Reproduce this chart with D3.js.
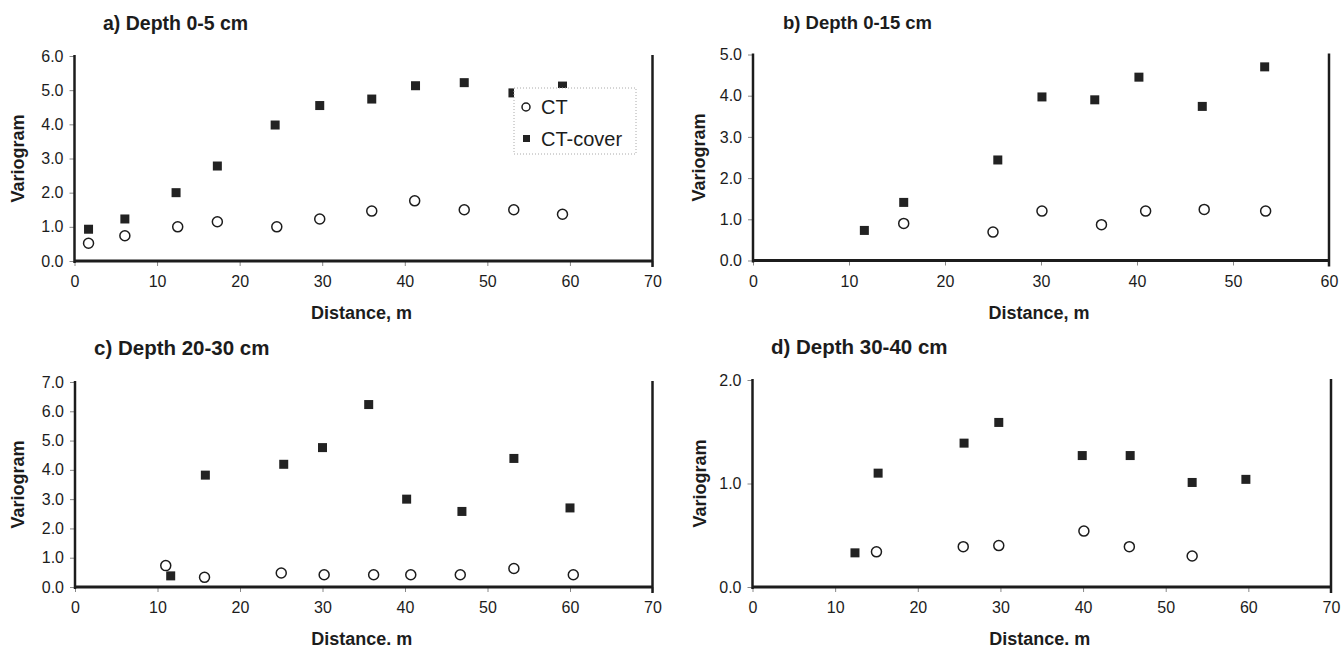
<!DOCTYPE html>
<html>
<head>
<meta charset="utf-8">
<script src="https://cdn.jsdelivr.net/npm/d3@7"></script>
<style>
body { margin: 0; background: #fff; }
text { font-family: "Liberation Sans", Arial, sans-serif; fill: #1c1c1c; }
</style>
</head>
<body>
<div id="chart"></div>
<script>
// Width and height
var width  = 1341;
var height = 650;

// a) depth 0-5 cm
var distA_CT    = [1.7, 6.1, 12.5, 17.3, 24.5, 29.7, 36.0, 41.2, 47.2, 53.2, 59.1];
var varA_CT     = [0.52, 0.74, 1.00, 1.15, 1.00, 1.23, 1.46, 1.76, 1.50, 1.50, 1.37];
var distA_cover = [1.7, 6.1, 12.3, 17.3, 24.3, 29.7, 36.0, 41.3, 47.2, 53.1, 59.1];
var varA_cover  = [0.93, 1.23, 2.00, 2.78, 3.98, 4.55, 4.74, 5.13, 5.22, 4.92, 5.12];

// b) depth 0-15 cm
var distB_CT    = [15.7, 25.0, 30.1, 36.3, 40.9, 47.0, 53.4];
var varB_CT     = [0.90, 0.69, 1.20, 0.87, 1.20, 1.24, 1.20];
var distB_cover = [11.6, 15.7, 25.5, 30.1, 35.6, 40.2, 46.8, 53.3];
var varB_cover  = [0.73, 1.41, 2.44, 3.97, 3.90, 4.45, 3.74, 4.70];

// c) depth 20-30 cm
var distC_CT    = [11.0, 15.7, 25.0, 30.2, 36.2, 40.7, 46.7, 53.2, 60.4];
var varC_CT     = [0.73, 0.33, 0.48, 0.42, 0.42, 0.42, 0.42, 0.63, 0.42];
var distC_cover = [11.6, 15.8, 25.3, 30.0, 35.6, 40.2, 46.9, 53.2, 60.0];
var varC_cover  = [0.38, 3.82, 4.19, 4.76, 6.23, 3.00, 2.58, 4.39, 2.70];

// d) depth 30-40 cm
var distD_CT    = [15.0, 25.5, 29.8, 40.1, 45.6, 53.2];
var varD_CT     = [0.34, 0.39, 0.40, 0.54, 0.39, 0.30];
var distD_cover = [12.4, 15.2, 25.6, 29.8, 39.9, 45.7, 53.2, 59.7];
var varD_cover  = [0.33, 1.10, 1.39, 1.59, 1.27, 1.27, 1.01, 1.04];

// tick labels
var xTicks70 = [0, 10, 20, 30, 40, 50, 60, 70];
var xTicks60 = [0, 10, 20, 30, 40, 50, 60];
var yTicksA  = [0, 1, 2, 3, 4, 5, 6];
var yTicksB  = [0, 1, 2, 3, 4, 5];
var yTicksC  = [0, 1, 2, 3, 4, 5, 6, 7];
var yTicksD  = [0, 1, 2];

var seriesNames = ["CT", "CT-cover"];

var panels = [
    { title: "a) Depth 0-5 cm", titleX: 103, titleY: 30, titleSize: 19.5,
      left: 74.5, right: 652.5, top: 56, bottom: 261, labX: 18,
      xMax: 70, xTicks: xTicks70, yMax: 6, yTicks: yTicksA, xLabel: "Distance, m",
      ct: [distA_CT, varA_CT], cover: [distA_cover, varA_cover], legend: true },
    { title: "b) Depth 0-15 cm", titleX: 783, titleY: 29, titleSize: 18.5,
      left: 753, right: 1329, top: 54.5, bottom: 260.5, labX: 699,
      xMax: 60, xTicks: xTicks60, yMax: 5, yTicks: yTicksB, xLabel: "Distance, m",
      ct: [distB_CT, varB_CT], cover: [distB_cover, varB_cover], legend: false },
    { title: "c) Depth 20-30 cm", titleX: 94, titleY: 355, titleSize: 20.5,
      left: 75, right: 652.5, top: 382, bottom: 587, labX: 18,
      xMax: 70, xTicks: xTicks70, yMax: 7, yTicks: yTicksC, xLabel: "Distance. m",
      ct: [distC_CT, varC_CT], cover: [distC_cover, varC_cover], legend: false },
    { title: "d) Depth 30-40 cm", titleX: 771, titleY: 354, titleSize: 20.5,
      left: 752.5, right: 1331, top: 380, bottom: 587, labX: 700,
      xMax: 70, xTicks: xTicks70, yMax: 2, yTicks: yTicksD, xLabel: "Distance. m",
      ct: [distD_CT, varD_CT], cover: [distD_cover, varD_cover], legend: false }
];

var svg = d3.select("#chart")
    .append("svg")
    .attr("width", width)
    .attr("height", height);

panels.forEach(function(p) {
    var x = d3.scaleLinear().domain([0, p.xMax]).range([p.left, p.right]);
    var y = d3.scaleLinear().domain([0, p.yMax]).range([p.bottom, p.top]);
    var g = svg.append("g");

    // title
    g.append("text")
        .attr("x", p.titleX)
        .attr("y", p.titleY)
        .style("font-size", p.titleSize + "px")
        .style("font-weight", "bold")
        .text(p.title);

    // axes
    var yAxis = g.append("g")
        .attr("transform", "translate(" + p.left + ",0)")
        .call(d3.axisLeft(y).tickValues(p.yTicks).tickSize(5).tickPadding(6)
            .tickFormat(d3.format(".1f")));
    var xAxis = g.append("g")
        .attr("transform", "translate(0," + p.bottom + ")")
        .call(d3.axisBottom(x).tickValues(p.xTicks).tickSize(5).tickPadding(10)
            .tickFormat(d3.format("d")));
    [yAxis, xAxis].forEach(function(a) {
        a.select(".domain").remove();
        a.selectAll(".tick line").style("stroke", "#888").style("stroke-width", 1);
        a.selectAll(".tick text")
            .style("font-size", "16px")
            .style("font-family", "'Liberation Sans', Arial, sans-serif")
            .style("fill", "#1c1c1c");
    });

    // frame lines: left, bottom, right
    g.append("line")
        .attr("x1", p.left).attr("x2", p.left)
        .attr("y1", p.top - 1).attr("y2", p.bottom + 2)
        .style("stroke", "#1c1c1c").style("stroke-width", 2.5);
    g.append("line")
        .attr("x1", p.left).attr("x2", p.right)
        .attr("y1", p.bottom).attr("y2", p.bottom)
        .style("stroke", "#1c1c1c").style("stroke-width", 3);
    g.append("line")
        .attr("x1", p.right).attr("x2", p.right)
        .attr("y1", p.top - 1).attr("y2", p.bottom + 6)
        .style("stroke", "#1c1c1c").style("stroke-width", 2.5);

    // axis titles
    g.append("text")
        .attr("transform", "translate(" + p.labX + "," + ((p.top + p.bottom) / 2) + ") rotate(-90)")
        .attr("text-anchor", "middle")
        .attr("dy", "0.35em")
        .style("font-size", "18px")
        .style("font-weight", "bold")
        .text("Variogram");
    g.append("text")
        .attr("x", (p.left + p.right) / 2 - 2)
        .attr("y", p.bottom + 58)
        .attr("text-anchor", "middle")
        .style("font-size", "18px")
        .style("font-weight", "bold")
        .text(p.xLabel);

    // CT-cover squares
    g.selectAll(".cover")
        .data(d3.zip(p.cover[0], p.cover[1]))
        .enter()
        .append("rect")
        .attr("class", "cover")
        .attr("x", function(d) { return x(d[0]) - 4.5; })
        .attr("y", function(d) { return y(d[1]) - 4.5; })
        .attr("width", 9)
        .attr("height", 9)
        .style("fill", "#222");

    // CT circles
    g.selectAll(".ct")
        .data(d3.zip(p.ct[0], p.ct[1]))
        .enter()
        .append("circle")
        .attr("class", "ct")
        .attr("cx", function(d) { return x(d[0]); })
        .attr("cy", function(d) { return y(d[1]); })
        .attr("r", 5)
        .style("fill", "#fff")
        .style("stroke", "#1c1c1c")
        .style("stroke-width", 1.5);

    if (p.legend) {
        var lg = g.append("g").attr("transform", "translate(514,88)");
        lg.append("rect")
            .attr("width", 122)
            .attr("height", 66)
            .style("fill", "#fff")
            .style("stroke", "#aaa")
            .style("stroke-width", 1)
            .style("stroke-dasharray", "1,2");
        lg.append("circle")
            .attr("cx", 12).attr("cy", 19).attr("r", 4)
            .style("fill", "#fff").style("stroke", "#1c1c1c").style("stroke-width", 1.5);
        lg.append("rect")
            .attr("x", 9).attr("y", 47).attr("width", 7).attr("height", 7)
            .style("fill", "#222");
        lg.selectAll(".lgText")
            .data(seriesNames)
            .enter()
            .append("text")
            .attr("class", "lgText")
            .attr("x", 27)
            .attr("y", function(d, i) { return 19 + i * 32; })
            .attr("dy", "0.36em")
            .style("font-size", "20px")
            .text(function(d) { return d; });
    }
});
</script>
</body>
</html>
